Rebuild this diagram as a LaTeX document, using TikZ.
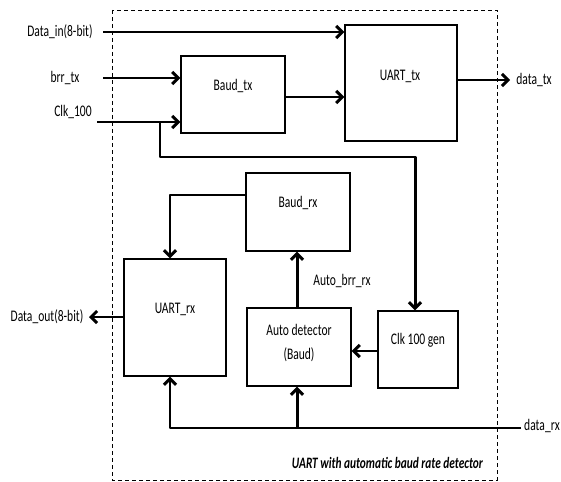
\documentclass[tikz,border=0pt]{standalone}
\usepackage{fontspec}
\usepackage{graphicx}
\setmainfont{Carlito}
\usetikzlibrary{arrows.meta}
\newcommand{\stx}[1]{\scalebox{1}[1.4]{#1}}
\begin{document}
\begin{tikzpicture}[x=1bp,y=-1bp,
  box/.style={draw,line width=1.4pt,inner sep=0pt,fill=white},
  txt/.style={font=\fontsize{11.6}{13}\selectfont,inner sep=0pt},
  arr/.style={line width=3pt,line join=round,-{Straight Barb[length=6bp,width=12bp]}},
  wire/.style={line width=3pt,line join=round}]
\useasboundingbox (0,0) rectangle (561,482);
\draw[line width=0.9pt,dash pattern=on 4bp off 3bp] (112,10) rectangle (497,480);
% blocks
\node[box,minimum width=112bp,minimum height=116bp] (uarttx) at (401,83) {};
\node[box,minimum width=104bp,minimum height=77bp] (baudtx) at (233,94.5) {};
\node[box,minimum width=104bp,minimum height=78bp] (baudrx) at (298,212) {};
\node[box,minimum width=102bp,minimum height=117bp] (uartrx) at (175,317.5) {};
\node[box,minimum width=104bp,minimum height=78bp] (autodet) at (299,347) {};
\node[box,minimum width=80bp,minimum height=77bp] (clkgen) at (418,349.5) {};
% texts
\node[txt] (luarttx) at (400,76) {\stx{UART\_tx}};
\node[txt] (lbaudtx) at (233,86) {\stx{Baud\_tx}};
\node[txt] (lbaudrx) at (298,203) {\stx{Baud\_rx}};
\node[txt] (luartrx) at (175,309) {\stx{UART\_rx}};
\node[txt] (lauto1) at (299,330) {\stx{Auto detector}};
\node[txt] (lauto2) at (299,355) {\stx{(Baud)}};
\node[txt] (lclk) at (418,340) {\stx{Clk 100 gen}};
\node[txt] (ldatain) at (60,32) {\stx{Data\_in(8-bit)}};
\node[txt] (lbrr) at (65,78) {\stx{brr\_tx}};
\node[txt] (lclk100) at (73,112) {\stx{Clk\_100}};
\node[txt] (ldatatx) at (534,80) {\stx{data\_tx}};
\node[txt] (ldataout) at (47,317) {\stx{Data\_out(8-bit)}};
\node[txt] (lautobrr) at (342,281) {\stx{Auto\_brr\_rx}};
\node[txt] (ldatarx) at (542,426) {\stx{data\_rx}};
\node[txt,font=\fontsize{11.4}{13}\selectfont\bfseries\itshape,anchor=east] (caption) at (483,463) {\stx{UART with automatic baud rate detector}};
% coordinates
\coordinate (din) at (103,32);
\coordinate (brrs) at (103,78);
\coordinate (clks) at (97,122);
\coordinate (br) at (160,122);
\coordinate (cb) at (415,157);
\coordinate (ybt) at (0,97);
\coordinate (txo) at (510,80);
\coordinate (rxc) at (170,195);
\coordinate (douto) at (89,317);
\coordinate (ab) at (297,300);
\coordinate (yck) at (0,351);
\coordinate (rxs) at (521,428);
\coordinate (rxj1) at (170,428);
\coordinate (rxj2) at (297,428);
% connectors
\draw[arr] (din) -- (din -| uarttx.west);
\draw[arr] (brrs) -- (brrs -| baudtx.west);
\draw[arr] (clks) -- (clks -| baudtx.west);
\draw[arr] (br) |- (cb) -- (cb |- clkgen.north);
\draw[arr] (baudtx.east |- ybt) -- (uarttx.west |- ybt);
\draw[arr] (uarttx.east |- txo) -- (txo);
\draw[arr] (baudrx.west |- rxc) -- (rxc) -- (rxc |- uartrx.north);
\draw[arr] (uartrx.west |- douto) -- (douto);
\draw[arr] (ab |- autodet.north) -- (ab |- baudrx.south);
\draw[arr] (clkgen.west |- yck) -- (autodet.east |- yck);
\draw[arr] (rxs) -- (rxj1) -- (rxj1 |- uartrx.south);
\draw[arr] (rxj2) -- (rxj2 |- autodet.south);
\end{tikzpicture}
\end{document}
